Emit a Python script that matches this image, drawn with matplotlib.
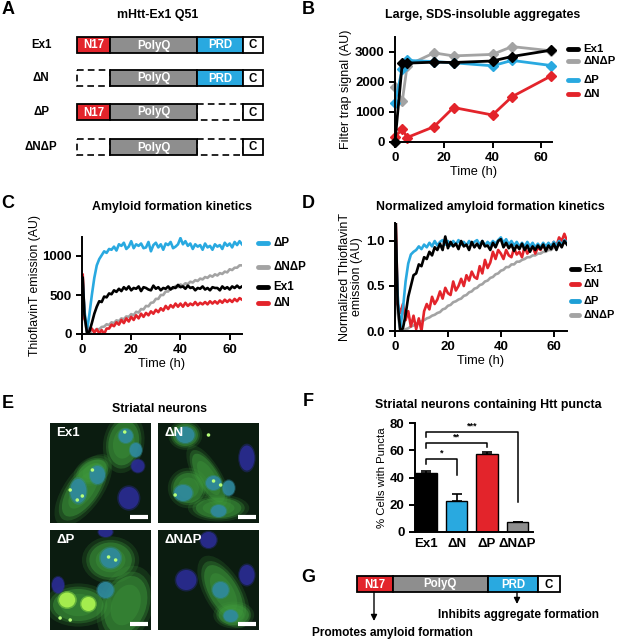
import matplotlib
matplotlib.use('Agg')
import matplotlib.pyplot as plt
from matplotlib.patches import Rectangle, Ellipse

plt.rcParams['font.family'] = ['Liberation Sans', 'DejaVu Sans']
plt.rcParams['font.weight'] = 'bold'
plt.rcParams['axes.linewidth'] = 1.4
plt.rcParams['xtick.major.width'] = 1.4
plt.rcParams['ytick.major.width'] = 1.4
plt.rcParams['xtick.major.size'] = 4
plt.rcParams['ytick.major.size'] = 4
plt.rcParams['xtick.labelsize'] = 9.5
plt.rcParams['ytick.labelsize'] = 9.5

RED = '#e3242b'
BLUE = '#29a9e0'
GREY = '#a3a3a3'
POLYQ = '#8e8e8e'

# ---- A: construct diagram
domain_names = ['N17', 'PolyQ', 'PRD', 'C']
domain_len = [33, 87, 46, 20]
domain_fill = [RED, POLYQ, BLUE, 'white']
constructs = ['Ex1', 'ΔN', 'ΔP', 'ΔNΔP']
present = [[1, 1, 1, 1], [0, 1, 1, 1], [1, 1, 0, 1], [0, 1, 0, 1]]

# ---- B: filter trap
b_time = [0, 3, 5, 16, 24, 40, 48, 64]
b_ex1 = [0, 2650, 2630, 2660, 2650, 2700, 2850, 3060]
b_dndp = [1850, 1370, 2550, 2970, 2870, 2920, 3180, 3040]
b_dp = [1300, 2450, 2720, 2680, 2640, 2540, 2720, 2550]
b_dn = [180, 420, 150, 510, 1150, 900, 1510, 2200]

# ---- C / D: ThT kinetics (hours)
kin_time = [0.3] + list(range(1, 66))
c_dp = [650, 300, 40, 250, 500, 720, 880, 960, 1010, 1060, 1040,
        1090, 1080, 1120, 1070, 1150, 1130, 1170, 1090, 1120, 1190,
        1100, 1150, 1130, 1160, 1100, 1110, 1180, 1060, 1140, 1170,
        1110, 1150, 1080, 1160, 1140, 1180, 1100, 1120, 1150, 1230,
        1150, 1190, 1130, 1160, 1090, 1150, 1120, 1140, 1080, 1160,
        1110, 1130, 1080, 1150, 1120, 1140, 1090, 1170, 1130, 1160,
        1110, 1180, 1140, 1190, 1150]
c_ex1 = [720, 250, 20, 30, 140, 260, 350, 420, 410, 480, 470,
         520, 510, 560, 540, 580, 550, 600, 570, 610, 560,
         590, 580, 610, 550, 600, 590, 570, 560, 620, 580,
         600, 560, 590, 580, 610, 570, 600, 590, 630, 600,
         610, 580, 620, 590, 600, 560, 590, 580, 610, 570,
         590, 560, 600, 590, 590, 560, 610, 580, 600, 570,
         610, 590, 620, 590, 610]
c_dndp = [700, 200, 20, 10, 40, 35, 65, 60, 90, 95, 125,
          115, 150, 140, 175, 165, 200, 190, 225, 220, 255,
          240, 285, 275, 320, 315, 360, 355, 400, 405, 450,
          450, 500, 500, 545, 545, 590, 580, 615, 600, 635,
          620, 650, 640, 670, 660, 690, 680, 710, 700, 730,
          720, 750, 735, 765, 750, 780, 770, 800, 790, 830,
          820, 850, 850, 880, 880]
c_dn = [760, 200, 110, 40, 70, 20, 60, 10, 50, 0, 70,
        70, 120, 100, 150, 120, 180, 140, 200, 160, 220,
        180, 240, 200, 260, 220, 270, 240, 290, 260, 310,
        280, 330, 300, 360, 320, 370, 340, 390, 350, 390,
        350, 400, 360, 390, 370, 410, 370, 400, 380, 410,
        380, 420, 390, 420, 390, 430, 400, 440, 410, 440,
        410, 450, 420, 460, 440]

d_dp = [1.0, 0.4, 0.02, 0.25, 0.55, 0.75, 0.85, 0.88, 0.9, 0.94, 0.91,
        0.96, 0.93, 0.98, 0.94, 1.0, 0.95, 0.99, 1.01, 0.96, 1.0,
        0.95, 1.0, 0.96, 1.01, 0.96, 0.99, 0.95, 1.0, 0.96, 0.99,
        1.01, 0.96, 1.0, 0.95, 0.99, 0.96, 1.0, 0.97, 1.01, 1.04,
        0.98, 1.02, 0.96, 1.0, 0.95, 0.99, 0.94, 0.98, 0.94, 0.99,
        0.94, 0.98, 0.93, 0.97, 0.93, 0.98, 0.94, 0.98, 0.94, 0.99,
        0.95, 1.0, 0.96, 1.01, 0.98]
d_ex1 = [1.2, 0.3, 0.0, 0.03, 0.18, 0.38, 0.5, 0.62, 0.64, 0.74, 0.72,
         0.82, 0.8, 0.88, 0.84, 0.93, 0.9, 0.97, 0.9, 1.05, 0.92,
         0.99, 0.94, 0.97, 0.91, 1.0, 0.94, 0.96, 0.9, 0.99, 0.93,
         0.97, 0.92, 1.0, 0.94, 0.95, 0.9, 0.98, 0.93, 1.0, 1.02,
         0.93, 0.98, 0.92, 0.96, 0.89, 0.95, 0.91, 0.97, 0.9, 0.95,
         0.88, 0.94, 0.9, 0.95, 0.91, 0.96, 0.89, 0.95, 0.91, 0.97,
         0.9, 0.98, 0.93, 1.0, 0.96]
d_dn = [1.2, 0.3, 0.2, 0.3, 0.12, 0.22, 0.05, 0.17, 0.02, 0.14, 0.0,
        0.22, 0.3, 0.24, 0.38, 0.3, 0.35, 0.44, 0.36, 0.48, 0.42,
        0.4, 0.55, 0.45, 0.5, 0.58, 0.5, 0.62, 0.56, 0.66, 0.6,
        0.58, 0.72, 0.64, 0.79, 0.7, 0.76, 0.88, 0.8, 0.9, 0.86,
        0.8, 0.9, 0.84, 0.82, 0.92, 0.85, 0.88, 0.82, 0.94, 0.86,
        0.9, 0.95, 0.86, 0.93, 0.9, 0.97, 0.9, 0.95, 0.92, 0.99,
        0.94, 1.04, 1.0, 1.08, 1.0]
d_dndp = [1.0, 0.2, 0.0, 0.0, 0.02, 0.03, 0.05, 0.06, 0.08, 0.09, 0.11,
          0.12, 0.14, 0.15, 0.17, 0.18, 0.2, 0.21, 0.24, 0.25, 0.28,
          0.29, 0.32, 0.33, 0.35, 0.36, 0.39, 0.4, 0.43, 0.44, 0.47,
          0.48, 0.51, 0.52, 0.55, 0.56, 0.59, 0.6, 0.63, 0.64, 0.67,
          0.68, 0.71, 0.71, 0.74, 0.74, 0.77, 0.77, 0.79, 0.8, 0.82,
          0.82, 0.84, 0.84, 0.86, 0.86, 0.88, 0.88, 0.9, 0.9, 0.93,
          0.93, 0.96, 0.96, 0.98, 0.98]

# ---- E: micrograph sketches (panel coords, y down): (x, y, w, h, angle)
e_cells = {
    'Ex1': [(0.33, 0.67, 0.62, 0.28, -55), (0.73, 0.2, 0.3, 0.45, 10), (0.42, 0.48, 0.3, 0.2, -30)],
    'ΔN': [(0.5, 0.55, 0.55, 0.2, 60), (0.3, 0.65, 0.3, 0.3, 0), (0.6, 0.85, 0.45, 0.2, 0), (0.27, 0.12, 0.25, 0.22, 0)],
    'ΔP': [(0.75, 0.75, 0.4, 0.6, 20), (0.6, 0.3, 0.42, 0.35, 0), (0.28, 0.75, 0.5, 0.32, 0)],
    'ΔNΔP': [(0.65, 0.62, 0.6, 0.28, 60), (0.75, 0.85, 0.3, 0.2, 0)],
}
e_nuclei = {
    'Ex1': [(0.75, 0.13, 0.14, 0.14), (0.85, 0.27, 0.12, 0.14), (0.87, 0.43, 0.13, 0.13),
            (0.78, 0.75, 0.2, 0.22), (0.47, 0.52, 0.15, 0.18), (0.28, 0.68, 0.16, 0.24)],
    'ΔN': [(0.27, 0.12, 0.18, 0.16), (0.88, 0.35, 0.15, 0.25), (0.25, 0.7, 0.18, 0.16),
           (0.55, 0.6, 0.15, 0.14), (0.7, 0.65, 0.12, 0.15), (0.6, 0.88, 0.15, 0.12)],
    'ΔP': [(0.55, 0.02, 0.14, 0.1), (0.08, 0.55, 0.12, 0.16), (0.55, 0.6, 0.16, 0.16),
           (0.6, 0.28, 0.2, 0.2)],
    'ΔNΔP': [(0.5, 0.1, 0.16, 0.16), (0.28, 0.5, 0.2, 0.2), (0.88, 0.45, 0.15, 0.2),
             (0.62, 0.6, 0.16, 0.16), (0.72, 0.86, 0.14, 0.12)],
}
e_puncta = {
    'Ex1': [(0.74, 0.09), (0.42, 0.47), (0.2, 0.67), (0.27, 0.77), (0.32, 0.73)],
    'ΔN': [(0.5, 0.12), (0.17, 0.72), (0.55, 0.58), (0.62, 0.62)],
    'ΔP': [(0.58, 0.27), (0.65, 0.3), (0.1, 0.88), (0.2, 0.9)],
    'ΔNΔP': [],
}
e_bright = {'ΔP': [(0.17, 0.7, 0.16, 0.15), (0.38, 0.74, 0.14, 0.14)]}

# ---- F: puncta counts
f_labels = ['Ex1', 'ΔN', 'ΔP', 'ΔNΔP']
f_values = [43, 23, 57, 7]
f_err = [1.5, 5, 2, 0.5]
f_colors = ['black', BLUE, RED, POLYQ]
f_sig = [(0, 1, 53.6, 50, 42, '*'), (0, 2, 65.5, 61.5, 62.5, '**'), (0, 3, 73.6, 70, 22, '***')]

W, H = 617, 641
fig = plt.figure(figsize=(W / 100, H / 100), dpi=100)


def box(x0, y0, x1, y1):
    return fig.add_axes([x0 / W, 1 - y1 / H, (x1 - x0) / W, (y1 - y0) / H])


ov = box(0, 0, W, H)
ov.set_xlim(0, W)
ov.set_ylim(H, 0)
ov.axis('off')

for lab, x, y in [('A', 8, 9), ('B', 308, 9), ('C', 8, 203), ('D', 308, 203),
                  ('E', 8, 403), ('F', 308, 402), ('G', 308, 578)]:
    ov.text(x, y, lab, fontsize=13, ha='center', va='center')


def draw_domains(x0, yc, h, scale, mask, dashed=True):
    x = x0
    for name, ln, fc, m in zip(domain_names, domain_len, domain_fill, mask):
        w = ln * scale
        if m:
            ov.add_patch(Rectangle((x, yc - h / 2), w, h, facecolor=fc, edgecolor='black', lw=1.3, zorder=3))
            ov.text(x + w / 2, yc + 0.5, name, ha='center', va='center', fontsize=8.3,
                    color='black' if fc == 'white' else 'white', zorder=4)
        elif dashed:
            ov.add_patch(Rectangle((x, yc - h / 2), w, h, facecolor='none', edgecolor='black',
                                   lw=1.2, ls=(0, (4, 2.5)), zorder=2))
        x += w


# A
ov.text(158, 15, 'mHtt-Ex1 Q51', ha='center', va='center', fontsize=8.9)
for name, mask, yc in zip(constructs, present, [45, 78, 112, 147]):
    ov.text(41, yc, name, ha='center', va='center', fontsize=8.3)
    draw_domains(77, yc, 16, 1.0, mask)

# B
axb = box(395, 37, 552, 142)
axb.plot(b_time, b_dndp, color=GREY, lw=2, marker='D', ms=5.5, clip_on=False)
axb.plot(b_time, b_dp, color=BLUE, lw=2, marker='D', ms=5.5, clip_on=False)
axb.plot(b_time, b_dn, color=RED, lw=2, marker='D', ms=5.5, clip_on=False)
axb.plot(b_time, b_ex1, color='black', lw=2, marker='D', ms=5.5, clip_on=False)
axb.set_xlim(0, 64.4)
axb.set_ylim(0, 3500)
axb.set_xticks([0, 20, 40, 60])
axb.set_yticks([0, 1000, 2000, 3000])
axb.set_xlabel('Time (h)', fontsize=9.2, labelpad=1)
axb.set_ylabel('Filter trap signal (AU)', fontsize=9, labelpad=2)
ov.text(483, 15, 'Large, SDS-insoluble aggregates', ha='center', va='center', fontsize=8.9)
for lab, col, y in [('Ex1', 'black', 49), ('ΔNΔP', GREY, 61), ('ΔP', BLUE, 80), ('ΔN', RED, 94)]:
    ov.plot([568, 578], [y, y], color=col, lw=3.5, solid_capstyle='round')
    ov.text(583, y, lab, ha='left', va='center', fontsize=8.2)

# C
axc = box(82, 236.5, 242, 334)
axc.plot(kin_time, c_dndp, color=GREY, lw=1.9)
axc.plot(kin_time, c_dn, color=RED, lw=1.9)
axc.plot(kin_time, c_dp, color=BLUE, lw=1.9)
axc.plot(kin_time, c_ex1, color='black', lw=1.9)
axc.set_xlim(0, 65)
axc.set_ylim(0, 1250)
axc.set_xticks([0, 20, 40, 60])
axc.set_yticks([0, 500, 1000])
axc.set_xlabel('Time (h)', fontsize=9.2, labelpad=1)
axc.set_ylabel('ThioflavinT emission (AU)', fontsize=8.8, labelpad=1)
ov.text(172, 207, 'Amyloid formation kinetics', ha='center', va='center', fontsize=8.9)
for lab, col, y in [('ΔP', BLUE, 243), ('ΔNΔP', GREY, 267), ('Ex1', 'black', 287), ('ΔN', RED, 303)]:
    ov.plot([258, 268], [y, y], color=col, lw=3.5, solid_capstyle='round')
    ov.text(273, y, lab, ha='left', va='center', fontsize=8.4)

# D
axd = box(395, 223, 567, 331)
axd.plot(kin_time, d_dndp, color=GREY, lw=1.9)
axd.plot(kin_time, d_dn, color=RED, lw=1.9)
axd.plot(kin_time, d_dp, color=BLUE, lw=1.9)
axd.plot(kin_time, d_ex1, color='black', lw=1.9)
axd.set_xlim(0, 65)
axd.set_ylim(0, 1.2)
axd.set_xticks([0, 20, 40, 60])
axd.set_yticks([0, 0.5, 1.0])
axd.set_yticklabels(['0.0', '0.5', '1.0'])
axd.set_xlabel('Time (h)', fontsize=9.2, labelpad=1)
axd.set_ylabel('Normalized ThioflavinT\nemission (AU)', fontsize=9, labelpad=2, linespacing=1.05)
ov.text(490, 207, 'Normalized amyloid formation kinetics', ha='center', va='center', fontsize=8.9)
for lab, col, y in [('Ex1', 'black', 269), ('ΔN', RED, 284), ('ΔP', '#1e9fd6', 301), ('ΔNΔP', GREY, 315)]:
    ov.plot([571, 579], [y, y], color=col, lw=3.5, solid_capstyle='round')
    ov.text(583, y, lab, ha='left', va='center', fontsize=7.9)

for a in (axb, axc, axd):
    a.spines['top'].set_visible(False)
    a.spines['right'].set_visible(False)
    a.patch.set_alpha(0)

# E
ov.text(160, 409, 'Striatal neurons', ha='center', va='center', fontsize=8.9)
for name, (x0, y0) in zip(constructs, [(50, 423), (158, 423), (50, 530), (158, 530)]):
    ax = box(x0, y0, x0 + 101, y0 + 100)
    ax.set_xlim(0, 1)
    ax.set_ylim(1, 0)
    ax.set_facecolor('#0b1c10')
    ax.set_xticks([])
    ax.set_yticks([])
    for s in ax.spines.values():
        s.set_visible(False)
    for (x, y, w, h, ang) in e_cells[name]:
        for k, al in [(1.35, 0.18), (1.15, 0.3), (1.0, 0.45), (0.7, 0.35)]:
            ax.add_patch(Ellipse((x, y), w * k, h * k, angle=ang, color='#3f9a3c', alpha=al, lw=0))
    for (x, y, w, h) in e_nuclei[name]:
        inside = any(abs(x - cx) < cw / 2 and abs(y - cy) < ch / 2 for cx, cy, cw, ch, _ in e_cells[name])
        col = '#2f8aa0' if inside else '#2b2c95'
        ax.add_patch(Ellipse((x, y), w * 1.15, h * 1.15, color=col, alpha=0.4, lw=0))
        ax.add_patch(Ellipse((x, y), w, h, color=col, alpha=0.85, lw=0))
    for (x, y, w, h) in e_bright.get(name, []):
        ax.add_patch(Ellipse((x, y), w * 1.2, h * 1.2, color='#7fd040', alpha=0.6, lw=0))
        ax.add_patch(Ellipse((x, y), w, h, color='#a4ec4e', lw=0))
    for (x, y) in e_puncta[name]:
        ax.add_patch(Ellipse((x, y), 0.035, 0.035, color='#b6ff7a', lw=0))
    ax.plot([0.79, 0.97], [0.935, 0.935], color='white', lw=3, solid_capstyle='butt')
    ax.text(0.06, 0.1, name, color='white', fontsize=9.5, ha='left', va='center')

# F
axf = box(415, 423, 533, 532)
pos = list(range(len(f_labels)))
axf.bar(pos, f_values, width=0.7, color=f_colors, edgecolor='black', lw=1)
axf.errorbar(pos, f_values, yerr=[[0] * 4, f_err], fmt='none', ecolor='black', elinewidth=1.2, capsize=3.5, capthick=1.2)
for i, j, top, yl, yr, star in f_sig:
    axf.plot([i, i, j, j], [yl, top, top, yr], color='black', lw=1.1, clip_on=False)
    axf.text((i + j) / 2, top + 1, star, ha='center', va='bottom', fontsize=6.5)
axf.set_xlim(-0.36, 3.5)
axf.set_ylim(0, 80)
axf.set_yticks([0, 20, 40, 60, 80])
axf.set_xticks(pos)
axf.set_xticklabels(f_labels)
axf.tick_params(axis='x', length=0, pad=4)
axf.set_ylabel('% Cells with Puncta', fontsize=8.2, fontweight='normal', labelpad=2)
axf.spines['top'].set_visible(False)
axf.spines['right'].set_visible(False)
axf.patch.set_alpha(0)
ov.text(488, 405, 'Striatal neurons containing Htt puncta', ha='center', va='center', fontsize=8.9)

# G
draw_domains(357, 584, 16, 1.09, [1, 1, 1, 1])
ov.annotate('', xy=(374, 621), xytext=(374, 592),
            arrowprops=dict(arrowstyle='-|>', lw=1, color='black', mutation_scale=9, shrinkA=0, shrinkB=0))
ov.annotate('', xy=(517, 604), xytext=(517, 592),
            arrowprops=dict(arrowstyle='-|>', lw=1, color='black', mutation_scale=9, shrinkA=0, shrinkB=0))
ov.text(312, 633, 'Promotes amyloid formation', ha='left', va='center', fontsize=8.6)
ov.text(518, 615, 'Inhibits aggregate formation', ha='center', va='center', fontsize=8.6)

fig.savefig('out.png', dpi=100)
